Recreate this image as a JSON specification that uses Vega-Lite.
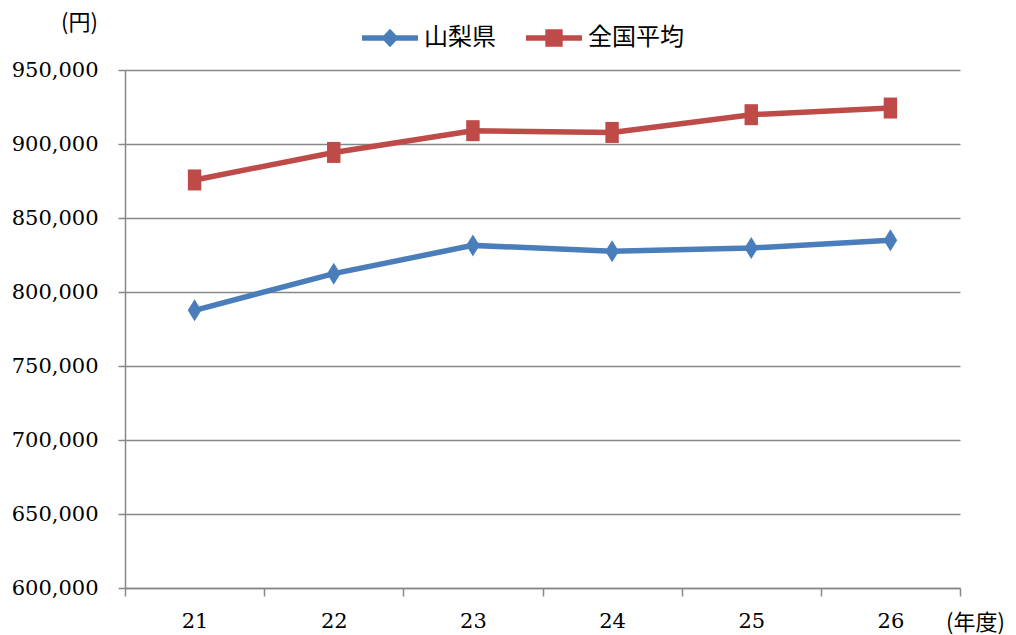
{
  "$schema": "https://vega.github.io/schema/vega-lite/v6.json",
  "width": 835,
  "height": 518,
  "autosize": "none",
  "padding": {"left": 125, "top": 70, "right": 56, "bottom": 47},
  "background": "white",
  "config": {"view": {"stroke": null}},
  "data": {"values": [
    {"year": "21", "series": "山梨県", "value": 787600},
    {"year": "22", "series": "山梨県", "value": 812400},
    {"year": "23", "series": "山梨県", "value": 831500},
    {"year": "24", "series": "山梨県", "value": 827500},
    {"year": "25", "series": "山梨県", "value": 829700},
    {"year": "26", "series": "山梨県", "value": 834900},
    {"year": "21", "series": "全国平均", "value": 875700},
    {"year": "22", "series": "全国平均", "value": 894300},
    {"year": "23", "series": "全国平均", "value": 909000},
    {"year": "24", "series": "全国平均", "value": 907800},
    {"year": "25", "series": "全国平均", "value": 919800},
    {"year": "26", "series": "全国平均", "value": 924300}
  ]},
  "encoding": {
    "x": {
      "field": "year", "type": "ordinal", "bandPosition": 0.5,
      "scale": {"type": "band", "paddingInner": 0, "paddingOuter": 0},
      "axis": {
        "tickBand": "extent", "grid": false, "labelAngle": 0,
        "domainColor": "#888888", "domainWidth": 1.5,
        "tickColor": "#888888", "tickWidth": 1.5, "tickSize": 8,
        "labelFont": "DejaVu Serif", "labelFontSize": 21, "labelColor": "#000000", "labelPadding": 14,
        "title": "(年度)", "titleFont": "Noto Sans CJK JP", "titleFontSize": 22, "titleFontWeight": "normal",
        "titleColor": "#000000", "titleX": 850, "titleY": 34, "titleAlign": "center", "titleBaseline": "middle"
      }
    },
    "y": {
      "field": "value", "type": "quantitative",
      "scale": {"domain": [600000, 950000], "nice": false, "zero": false},
      "axis": {
        "values": [600000, 650000, 700000, 750000, 800000, 850000, 900000, 950000],
        "format": ",d", "grid": true, "gridColor": "#888888", "gridWidth": 1.5,
        "domainColor": "#888888", "domainWidth": 1.5,
        "tickColor": "#888888", "tickWidth": 1.5, "tickSize": 7,
        "labelFont": "DejaVu Serif", "labelFontSize": 21, "labelColor": "#000000", "labelPadding": 20,
        "title": "(円)", "titleFont": "Noto Sans CJK JP", "titleFontSize": 22, "titleFontWeight": "normal",
        "titleColor": "#000000", "titleAngle": 0, "titleX": -46, "titleY": -48, "titleAlign": "center", "titleBaseline": "middle"
      }
    },
    "color": {
      "field": "series", "type": "nominal",
      "scale": {"domain": ["山梨県", "全国平均"], "range": ["#4a7ebb", "#be4b48"]},
      "legend": {
        "orient": "none", "direction": "horizontal", "title": null,
        "legendX": 237, "legendY": -60, "padding": 0, "offset": 0,
        "symbolSize": 3136, "symbolStrokeWidth": 0, "labelOffset": 6, "columnPadding": 30,
        "labelFont": "Noto Sans CJK JP", "labelFontSize": 24, "labelColor": "#000000",
        "encode": {
          "symbols": {"update": {
            "shape": {"signal": "datum.value === '山梨県' ? 'M-1,-0.1H-0.22L0,-0.33L0.22,-0.1H1V0.1H0.22L0,0.33L-0.22,0.1H-1Z' : 'M-1,-0.1H-0.31V-0.31H0.31V-0.1H1V0.1H0.31V0.31H-0.31V0.1H-1Z'"},
            "fill": {"signal": "datum.value === '山梨県' ? '#4a7ebb' : '#be4b48'"},
            "fillOpacity": {"value": 1},
            "strokeWidth": {"value": 0}
          }}
        }
      }
    }
  },
  "layer": [
    {"mark": {"type": "line", "strokeWidth": 5.5}},
    {
      "transform": [{"filter": "datum.series === '山梨県'"}],
      "mark": {"type": "point", "filled": true, "opacity": 1, "size": 484, "shape": "M0,-1L0.62,0L0,1L-0.62,0Z"}
    },
    {
      "transform": [{"filter": "datum.series === '全国平均'"}],
      "mark": {"type": "point", "filled": true, "opacity": 1, "size": 441, "shape": "M-0.64,-1H0.64V1H-0.64Z"}
    }
  ]
}
